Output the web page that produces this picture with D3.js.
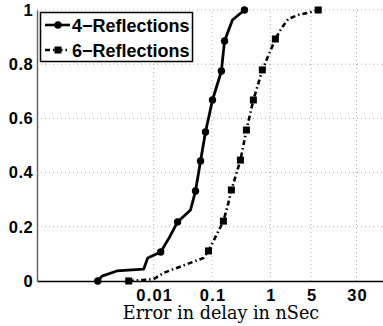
<!DOCTYPE html>
<html>
<head>
<meta charset="utf-8">
<script src="https://cdn.jsdelivr.net/npm/d3@7"></script>
<style>
  body { margin: 0; background: #fff; }
  svg { display: block; }
</style>
</head>
<body>
<div id="container"></div>
<script>
// data
var xTicks = [0.01, 0.1, 1, 5, 30];
var yTicks = [0, 0.2, 0.4, 0.6, 0.8, 1];

var refl4X = [0.0011, 0.0013, 0.00233, 0.00675, 0.0079, 0.0132, 0.0185, 0.0257, 0.0428, 0.0522, 0.0636, 0.0774, 0.102, 0.145, 0.164, 0.224, 0.36];
var refl4Y = [0, 0.018, 0.037, 0.044, 0.085, 0.107, 0.16, 0.218, 0.262, 0.332, 0.443, 0.55, 0.668, 0.775, 0.886, 0.963, 1];
var refl4Marks = [0, 5, 7, 9, 10, 11, 12, 13, 14, 16];

var refl6X = [0.00374, 0.01, 0.0148, 0.0716, 0.0871, 0.124, 0.157, 0.191, 0.215, 0.307, 0.389, 0.512, 0.73, 1.22, 1.6, 2.03, 3.01, 4.47, 6.62];
var refl6Y = [0, 0.007, 0.03, 0.085, 0.111, 0.177, 0.221, 0.288, 0.336, 0.446, 0.557, 0.668, 0.779, 0.893, 0.937, 0.967, 0.982, 0.99, 1];
var refl6Marks = [0, 4, 6, 8, 9, 10, 11, 12, 13, 18];

var seriesNames = ["4\u2212Reflections", "6\u2212Reflections"];

var W = 383, H = 326;
var margin = {top: 10, right: -4, bottom: 45, left: 37};

var svg = d3.select("#container")
  .append("svg")
    .attr("width", W)
    .attr("height", H);

var x = d3.scaleLog()
  .domain([1e-4, 100])
  .range([margin.left, W - margin.right]);

var y = d3.scaleLinear()
  .domain([0, 1])
  .range([H - margin.bottom, margin.top]);

// grid
var grid = svg.append("g");
grid.selectAll("line.gx")
  .data(xTicks)
  .enter().append("line")
    .attr("x1", function(d) { return x(d); })
    .attr("x2", function(d) { return x(d); })
    .attr("y1", y(0))
    .attr("y2", y(1))
    .attr("stroke", "#aaa")
    .attr("stroke-width", 1)
    .attr("stroke-dasharray", "1,3");
grid.selectAll("line.gy")
  .data(yTicks.slice(1))
  .enter().append("line")
    .attr("x1", x(1e-4))
    .attr("x2", W)
    .attr("y1", function(d) { return y(d); })
    .attr("y2", function(d) { return y(d); })
    .attr("stroke", "#aaa")
    .attr("stroke-width", 1)
    .attr("stroke-dasharray", "1,3");

// axes
var xAxis = svg.append("g")
  .attr("transform", "translate(0," + y(0) + ")")
  .call(d3.axisBottom(x).tickValues(xTicks).tickSize(0).tickPadding(8)
    .tickFormat(function(d) { return String(d); }));
xAxis.select(".domain").attr("stroke", "#000").attr("stroke-width", 1.5);
xAxis.selectAll(".tick text").attr("letter-spacing", 1.2).attr("dx", 0.6);

var yAxis = svg.append("g")
  .attr("transform", "translate(" + x(1e-4) + ",0)")
  .call(d3.axisLeft(y).tickValues(yTicks).tickSize(0).tickPadding(4)
    .tickFormat(function(d) { return String(d); }));
yAxis.select(".domain").attr("stroke", "#666").attr("stroke-width", 1.5);
yAxis.selectAll(".tick text").attr("letter-spacing", 0.4);

svg.selectAll(".tick text")
  .attr("font-family", "Liberation Sans, Arial, sans-serif")
  .attr("font-weight", "bold")
  .attr("font-size", 16.5)
  .attr("fill", "#000");

svg.append("text")
  .attr("x", 221)
  .attr("y", 319)
  .attr("text-anchor", "middle")
  .attr("font-family", "DejaVu Serif, Liberation Serif, serif")
  .attr("font-size", 17.6)
  .text("Error in delay in nSec");

// lines
var line = d3.line()
  .x(function(d) { return x(d[0]); })
  .y(function(d) { return y(d[1]); });

var pts4 = d3.zip(refl4X, refl4Y);
var pts6 = d3.zip(refl6X, refl6Y);

svg.append("path")
  .datum(pts4)
  .attr("d", line)
  .attr("fill", "none")
  .attr("stroke", "#000")
  .attr("stroke-width", 2.8)
  .attr("stroke-linejoin", "round");

svg.append("path")
  .datum(pts6)
  .attr("d", line)
  .attr("fill", "none")
  .attr("stroke", "#000")
  .attr("stroke-width", 2.6)
  .attr("stroke-dasharray", "5,3,1.5,3");

svg.append("g")
  .selectAll("circle")
  .data(refl4Marks.map(function(i) { return pts4[i]; }))
  .enter().append("circle")
    .attr("cx", function(d) { return x(d[0]); })
    .attr("cy", function(d) { return y(d[1]); })
    .attr("r", 3.7)
    .attr("fill", "#000");

svg.append("g")
  .selectAll("rect")
  .data(refl6Marks.map(function(i) { return pts6[i]; }))
  .enter().append("rect")
    .attr("x", function(d) { return x(d[0]) - 3.5; })
    .attr("y", function(d) { return y(d[1]) - 3.5; })
    .attr("width", 7)
    .attr("height", 7)
    .attr("fill", "#000");

// legend
var lg = svg.append("g");
lg.append("rect")
  .attr("x", 40.5).attr("y", 12.5)
  .attr("width", 152).attr("height", 49)
  .attr("fill", "#fff")
  .attr("stroke", "#000")
  .attr("stroke-width", 1.5);

var rows = lg.selectAll("g.row")
  .data(seriesNames)
  .enter().append("g")
    .attr("transform", function(d, i) { return "translate(0," + (25 + i * 25) + ")"; });

rows.append("line")
  .attr("x1", 45).attr("x2", 70)
  .attr("y1", 0).attr("y2", 0)
  .attr("stroke", "#000")
  .attr("stroke-width", 2.6)
  .attr("stroke-dasharray", function(d, i) { return i ? "5,3,1.5,3" : null; });

rows.each(function(d, i) {
  var g = d3.select(this);
  if (i === 0) {
    g.append("circle").attr("cx", 58).attr("cy", 0).attr("r", 3.7).attr("fill", "#000");
  } else {
    g.append("rect").attr("x", 54.5).attr("y", -3.5).attr("width", 7).attr("height", 7).attr("fill", "#000");
  }
});

rows.append("text")
  .attr("x", 72)
  .attr("y", 6.5)
  .attr("font-family", "Liberation Sans, Arial, sans-serif")
  .attr("font-weight", "bold")
  .attr("font-size", 18)
  .text(function(d) { return d; });
</script>
</body>
</html>
